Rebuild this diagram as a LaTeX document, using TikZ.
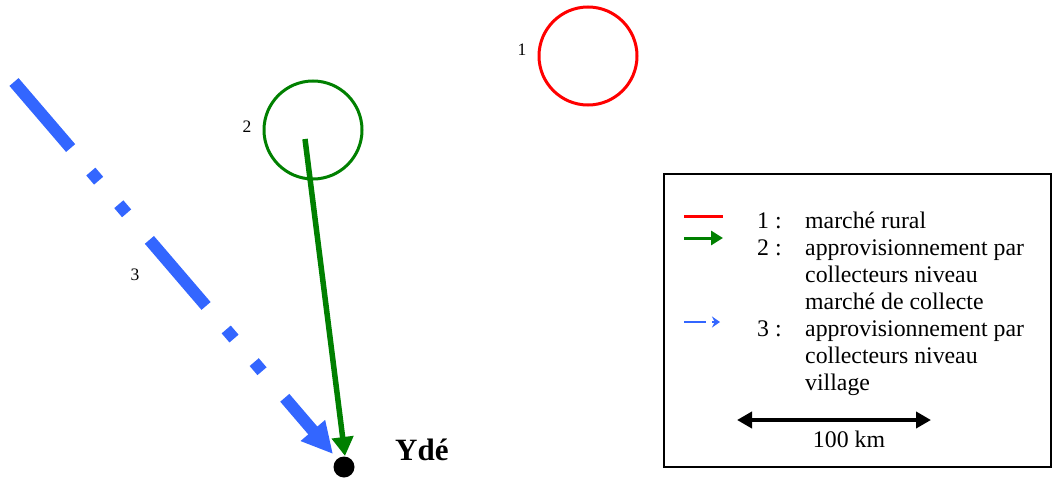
\documentclass[tikz,border=0pt]{standalone}
\usepackage{fontspec}
\setmainfont{Liberation Serif}
\usetikzlibrary{arrows.meta}
\definecolor{mred}{RGB}{255,0,0}
\definecolor{mgreen}{RGB}{0,128,0}
\definecolor{mblue}{RGB}{51,102,255}
\tikzset{
  legtext/.style={anchor=base west, inner sep=0pt, font=\fontsize{23.8}{27}\selectfont},
  numlabel/.style={anchor=center, inner sep=0pt, font=\fontsize{17.5}{20}\selectfont},
  market/.style={draw, line width=3pt, fill=none},
}
\begin{document}
\begin{tikzpicture}[x=1pt,y=-1pt]
\useasboundingbox (0,0) rectangle (1053,479);
% markets
\draw[market, mred] (588,56) circle (49);
\node[numlabel] (l1) at (522,50) {1};
\draw[market, mgreen] (313,130) circle (49);
\node[numlabel] (l2) at (247,127) {2};
\node[numlabel] (l3) at (135,275) {3};
% destination
\node[circle, fill=black, minimum size=21pt, inner sep=0pt] (yde) at (344,467) {};
\node[anchor=base west, inner sep=0pt, font=\fontsize{31}{35}\selectfont\bfseries] (ydelabel) at (395,460) {Ydé};
% flows
\coordinate (s2) at (305,139);
\coordinate (e2) at (345,456);
\draw[mgreen, line width=5.5pt, -{Triangle[length=19pt,width=21pt]}] (s2) -- (e2);
\coordinate (s3) at (14,82);
\coordinate (e3) at (333,454);
\draw[mblue, line width=12pt, line cap=butt, dash pattern=on 87pt off 31pt on 12pt off 31pt on 12pt off 35pt,
  -{Triangle[length=31pt,width=30pt]}] (s3) -- (e3);
% legend
\coordinate (b1) at (664,174);
\coordinate (b2) at (1051,467);
\draw[line width=2pt] (b1) rectangle (b2);
\coordinate (r1) at (684,216); \coordinate (r2) at (723,216);
\draw[mred, line width=3pt] (r1) -- (r2);
\coordinate (g1) at (684,238); \coordinate (g2) at (723,238);
\draw[mgreen, line width=3pt, -{Triangle[length=12pt,width=14pt]}] (g1) -- (g2);
\coordinate (u1) at (684,322); \coordinate (u2) at (720,322);
\draw[mblue, line width=2.5pt, dash pattern=on 22pt off 6pt, -{Stealth[length=8pt,width=11pt]}] (u1) -- (u2);
\node[legtext] (n1) at (757,228) {1 :};
\node[legtext] (t1) at (805,228) {marché rural};
\node[legtext] (n2) at (757,255) {2 :};
\node[legtext] (t2a) at (805,255) {approvisionnement par};
\node[legtext] (t2b) at (805,282) {collecteurs niveau};
\node[legtext] (t2c) at (805,309) {marché de collecte};
\node[legtext] (n3) at (757,336) {3 :};
\node[legtext] (t3a) at (805,336) {approvisionnement par};
\node[legtext] (t3b) at (805,363) {collecteurs niveau};
\node[legtext] (t3c) at (805,390) {village};
\coordinate (k1) at (737,420); \coordinate (k2) at (931,420);
\draw[line width=4pt, {Triangle[length=15pt,width=16pt]}-{Triangle[length=15pt,width=16pt]}] (k1) -- (k2);
\node[legtext, anchor=base] (km) at (849,447) {100 km};
\end{tikzpicture}
\end{document}
